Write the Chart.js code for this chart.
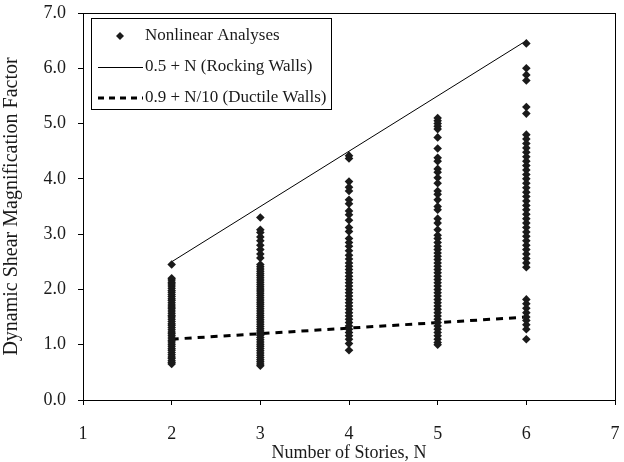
<!DOCTYPE html>
<html>
<head>
<meta charset="utf-8">
<script src="https://cdn.jsdelivr.net/npm/chart.js@4"></script>
<style>
  html, body { margin: 0; padding: 0; background: #fff; }
  #wrap { width: 624px; height: 462px; }
</style>
</head>
<body>
<div id="wrap"><canvas id="dmfChart" width="624" height="462"></canvas></div>
<script>
// Number of stories for each set of nonlinear results
const stories = [2, 3, 4, 5, 6];

// Dynamic shear magnification factors from the nonlinear analyses, one list per story count
const dmf2 = [2.45, 2.20, 2.17, 2.13, 2.10, 2.06, 2.02, 1.98, 1.95, 1.91, 1.87, 1.83, 1.80, 1.76, 1.72,
  1.68, 1.65, 1.61, 1.57, 1.53, 1.50, 1.46, 1.42, 1.38, 1.35, 1.31, 1.27, 1.23, 1.20, 1.16, 1.12,
  1.08, 1.05, 1.01, 0.97, 0.93, 0.90, 0.86, 0.82, 0.78, 0.75, 0.71, 0.68, 0.65];
const dmf3 = [3.30, 3.08, 3.03, 2.95, 2.88, 2.80, 2.72, 2.64, 2.57, 2.45, 2.41, 2.37, 2.33, 2.29, 2.25,
  2.21, 2.17, 2.13, 2.09, 2.05, 2.01, 1.97, 1.93, 1.89, 1.85, 1.81, 1.77, 1.73, 1.69, 1.65, 1.61,
  1.57, 1.53, 1.49, 1.45, 1.41, 1.37, 1.33, 1.29, 1.25, 1.21, 1.17, 1.13, 1.09, 1.05, 1.01, 0.97,
  0.93, 0.89, 0.85, 0.81, 0.77, 0.73, 0.69, 0.65, 0.62];
const dmf4 = [4.42, 4.37, 3.95, 3.85, 3.78, 3.62, 3.55, 3.42, 3.35, 3.25, 3.12, 3.05, 2.92, 2.85, 2.78,
  2.70, 2.62, 2.55, 2.48, 2.42, 2.36, 2.30, 2.24, 2.18, 2.12, 2.06, 2.00, 1.94, 1.88, 1.82, 1.76,
  1.70, 1.64, 1.58, 1.52, 1.46, 1.40, 1.34, 1.28, 1.22, 1.16, 1.10, 1.02, 0.90];
const dmf5 = [5.10, 5.05, 5.00, 4.95, 4.90, 4.75, 4.55, 4.38, 4.32, 4.18, 4.12, 4.02, 3.92, 3.78, 3.72,
  3.62, 3.50, 3.44, 3.28, 3.20, 3.08, 2.98, 2.92, 2.85, 2.78, 2.72, 2.66, 2.60, 2.54, 2.48, 2.42,
  2.36, 2.30, 2.24, 2.18, 2.12, 2.06, 2.00, 1.94, 1.88, 1.82, 1.76, 1.70, 1.64, 1.58, 1.52, 1.46,
  1.40, 1.34, 1.28, 1.22, 1.16, 1.10, 1.04, 1.00];
const dmf6 = [6.45, 6.00, 5.88, 5.78, 5.30, 5.18, 4.80, 4.72, 4.64, 4.56, 4.48, 4.40, 4.32, 4.24, 4.16,
  4.08, 4.00, 3.92, 3.84, 3.76, 3.68, 3.60, 3.52, 3.44, 3.36, 3.28, 3.20, 3.12, 3.04, 2.96, 2.88,
  2.80, 2.72, 2.64, 2.56, 2.48, 2.40, 1.82, 1.74, 1.66, 1.58, 1.50, 1.44, 1.36, 1.28, 1.10];
const dmfByStory = [dmf2, dmf3, dmf4, dmf5, dmf6];

// Design equations, evaluated at N = 2 and N = 6
const lineN = [2, 6];
const rockingDmf = [2.5, 6.5];   // 0.5 + N
const ductileDmf = [1.1, 1.5];   // 0.9 + N/10

const xTicks = [1, 2, 3, 4, 5, 6, 7];
const yTicks = [0, 1, 2, 3, 4, 5, 6, 7];

const serif = "'Liberation Serif', 'DejaVu Serif', serif";
const ink = "#1a1a1a";

const scatterPts = [];
stories.forEach((n, i) => {
  dmfByStory[i].forEach(v => scatterPts.push({ x: n, y: v }));
});

const toPts = (xs, ys) => xs.map((x, i) => ({ x: x, y: ys[i] }));

// frame round the plot area plus the boxed legend in the top left corner
const framePlugin = {
  id: "frame",
  afterDraw(chart) {
    const { ctx, chartArea: a } = chart;
    ctx.save();
    ctx.strokeStyle = "#000";
    ctx.lineWidth = 1;
    ctx.strokeRect(a.left + 0.5, a.top + 0.5, a.right - a.left, a.bottom - a.top);

    const bx = 91, by = 18, bw = 240, bh = 91;
    ctx.fillStyle = "#fff";
    ctx.fillRect(bx, by, bw, bh);
    ctx.strokeRect(bx + 0.5, by + 0.5, bw, bh);

    ctx.font = "17px " + serif;
    ctx.fillStyle = ink;
    ctx.textBaseline = "middle";
    const labels = chart.data.datasets.map(d => d.label);
    const rows = [36, 67, 98];
    const tx = 145;

    // diamond marker
    ctx.beginPath();
    ctx.moveTo(120, rows[0] - 4);
    ctx.lineTo(124, rows[0]);
    ctx.lineTo(120, rows[0] + 4);
    ctx.lineTo(116, rows[0]);
    ctx.closePath();
    ctx.fill();
    ctx.fillText(labels[0], tx, rows[0]);

    ctx.beginPath();
    ctx.moveTo(98, rows[1] + 0.5);
    ctx.lineTo(143, rows[1] + 0.5);
    ctx.lineWidth = 1;
    ctx.stroke();
    ctx.fillText(labels[1], tx, rows[1]);

    ctx.beginPath();
    ctx.setLineDash([6, 5]);
    ctx.lineWidth = 3;
    ctx.moveTo(98, rows[2]);
    ctx.lineTo(143, rows[2]);
    ctx.stroke();
    ctx.setLineDash([]);
    ctx.fillText(labels[2], tx, rows[2]);
    ctx.restore();
  }
};

new Chart(document.getElementById("dmfChart"), {
  type: "scatter",
  data: {
    datasets: [
      {
        label: "Nonlinear Analyses",
        data: scatterPts,
        pointStyle: "rectRot",
        pointRadius: 4.3,
        backgroundColor: ink,
        borderColor: ink,
        borderWidth: 0,
        order: 0,
      },
      {
        label: "0.5 + N (Rocking Walls)",
        data: toPts(lineN, rockingDmf),
        showLine: true,
        borderColor: "#000",
        borderWidth: 1,
        pointRadius: 0,
        order: 1,
      },
      {
        label: "0.9 + N/10 (Ductile Walls)",
        data: toPts(lineN, ductileDmf),
        showLine: true,
        borderColor: "#000",
        borderWidth: 3,
        borderDash: [7, 6],
        pointRadius: 0,
        order: 1,
      },
    ],
  },
  options: {
    responsive: false,
    animation: false,
    layout: { padding: { top: 13, right: 9, left: 0, bottom: 0 } },
    plugins: {
      legend: { display: false },
      tooltip: { enabled: false },
    },
    scales: {
      x: {
        type: "linear",
        min: 1,
        max: 7,
        afterBuildTicks: s => { s.ticks = xTicks.map(v => ({ value: v })); },
        afterFit: s => {
          s.height = 62;
          s.paddingLeft = 0;
          s.paddingRight = 0;
        },
        grid: { drawOnChartArea: false, color: "#000", tickLength: 5 },
        border: { color: "#000" },
        ticks: { color: ink, font: { family: serif, size: 18 }, padding: 18 },
        title: {
          display: true,
          text: "Number of Stories, N",
          color: ink,
          font: { family: serif, size: 18 },
          padding: { top: 0, bottom: -2 },
        },
      },
      y: {
        type: "linear",
        min: 0,
        max: 7,
        afterBuildTicks: s => { s.ticks = yTicks.map(v => ({ value: v })); },
        afterFit: s => {
          s.width = 83;
          s.paddingTop = 0;
          s.paddingBottom = 0;
        },
        grid: { drawOnChartArea: false, color: "#000", tickLength: 5 },
        border: { color: "#000" },
        ticks: {
          color: ink,
          font: { family: serif, size: 18 },
          padding: 12,
          callback: v => v.toFixed(1),
        },
        title: {
          display: true,
          text: "Dynamic Shear Magnification Factor",
          color: ink,
          font: { family: serif, size: 20 },
          padding: { top: 0, bottom: 4 },
        },
      },
    },
  },
  plugins: [framePlugin],
});
</script>
</body>
</html>
